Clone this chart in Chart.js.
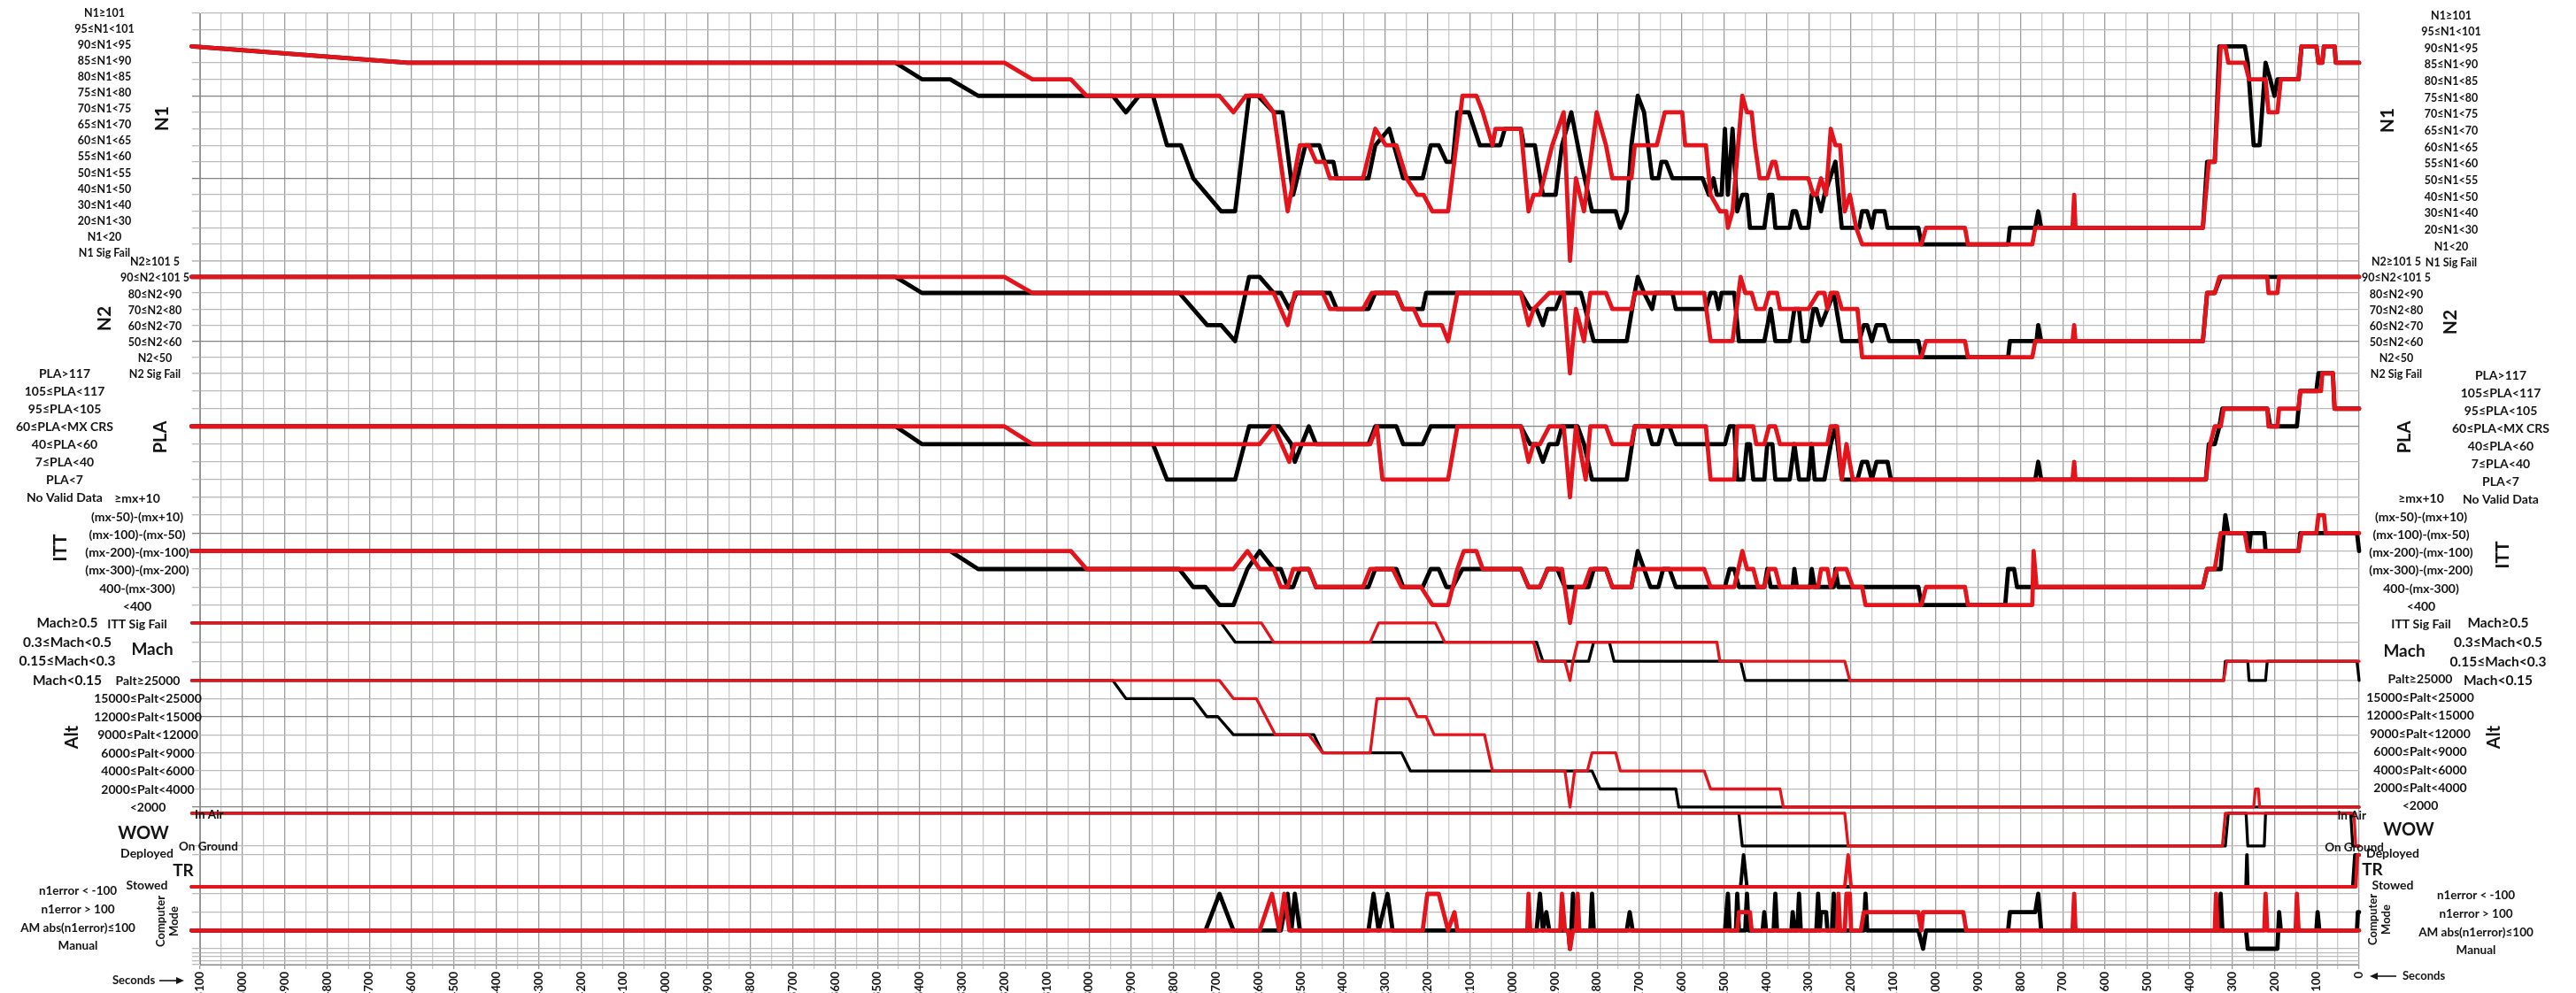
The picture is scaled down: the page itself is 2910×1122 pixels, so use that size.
<!DOCTYPE html>
<html><head><meta charset="utf-8">
<script src="https://cdn.jsdelivr.net/npm/chart.js@4.4.1/dist/chart.umd.min.js"></script>
<style>html,body{margin:0;padding:0;background:#fff;overflow:hidden}canvas{display:block}</style>
</head><body>
<canvas id="c" width="2910" height="1122"></canvas>
<script>
// ---------------- DATA ----------------
const X_TICKS = [5100,5000,4900,4800,4700,4600,4500,4400,4300,4200,4100,4000,3900,3800,3700,3600,3500,3400,3300,3200,3100,3000,2900,2800,2700,2600,2500,2400,2300,2200,2100,2000,1900,1800,1700,1600,1500,1400,1300,1200,1100,1000,900,800,700,600,500,400,300,200,100,0];

const N1_LABELS = ['N1≥101','95≤N1<101','90≤N1<95','85≤N1<90','80≤N1<85','75≤N1<80','70≤N1<75','65≤N1<70','60≤N1<65','55≤N1<60','50≤N1<55','40≤N1<50','30≤N1<40','20≤N1<30','N1<20','N1 Sig Fail'];
const N2_LABELS = ['N2≥101 5','90≤N2<101 5','80≤N2<90','70≤N2<80','60≤N2<70','50≤N2<60','N2<50','N2 Sig Fail'];
const PLA_LABELS = ['PLA>117','105≤PLA<117','95≤PLA<105','60≤PLA<MX CRS','40≤PLA<60','7≤PLA<40','PLA<7','No Valid Data'];
const ITT_LABELS = ['≥mx+10','(mx-50)-(mx+10)','(mx-100)-(mx-50)','(mx-200)-(mx-100)','(mx-300)-(mx-200)','400-(mx-300)','<400','ITT Sig Fail'];
const MACH_LABELS = ['Mach≥0.5','0.3≤Mach<0.5','0.15≤Mach<0.3','Mach<0.15'];
const ALT_LABELS = ['Palt≥25000','15000≤Palt<25000','12000≤Palt<15000','9000≤Palt<12000','6000≤Palt<9000','4000≤Palt<6000','2000≤Palt<4000','<2000'];
const WOW_LABELS = ['In Air','On Ground'];
const TR_LABELS = ['Deployed','Stowed'];
const CM_LABELS = ['n1error < -100','n1error > 100','AM abs(n1error)≤100','Manual'];

// series: [seconds, level index (0 = bottom label)]
const N1_BLACK = [[5120,13],[4610,12],[3457,12],[3395,11],[3328,11],[3262,10],[2944,10],[2913,9],[2882,10],[2849,10],[2816,7],[2783,7],[2754,5],[2721,4],[2688,3],[2655,3],[2622,10],[2601,10],[2564,9],[2543,9],[2518,4],[2489,7],[2456,7],[2444,6],[2423,6],[2415,5],[2340,5],[2324,7],[2291,8],[2258,5],[2212,5],[2193,7],[2174,7],[2156,6],[2141,6],[2130,9],[2103,9],[2077,7],[2029,7],[2018,8],[1980,8],[1973,7],[1947,7],[1928,4],[1898,4],[1883,7],[1861,9],[1838,6],[1812,3],[1756,3],[1745,2],[1730,3],[1719,7],[1704,10],[1689,9],[1670,5],[1655,5],[1648,6],[1637,6],[1622,5],[1551,5],[1536,4],[1525,5],[1517,4],[1506,4],[1498,8],[1491,4],[1480,8],[1469,3],[1457,4],[1446,4],[1439,2],[1405,2],[1394,4],[1386,4],[1379,2],[1345,2],[1338,3],[1330,3],[1319,2],[1301,2],[1293,4],[1282,4],[1271,3],[1263,4],[1237,6],[1222,2],[1181,2],[1174,3],[1162,3],[1151,2],[1144,3],[1121,3],[1114,2],[1041,2],[1034,1],[829,1],[825,2],[765,2],[758,3],[751,2],[369,2],[359,6],[341,6],[330,13],[270,13],[263,12],[249,7],[235,7],[221,12],[210,11],[200,10],[193,11],[143,11],[136,13],[101,13],[96,12],[87,12],[83,13],[58,13],[55,12],[0,12]];
const N1_RED = [[5120,13],[4610,12],[3200,12],[3134,11],[3043,11],[3006,10],[2692,10],[2659,9],[2630,10],[2593,10],[2564,9],[2531,3],[2502,7],[2481,7],[2464,6],[2444,6],[2431,5],[2353,5],[2324,8],[2299,7],[2274,7],[2250,5],[2225,4],[2210,4],[2189,3],[2152,3],[2118,10],[2085,10],[2070,9],[2047,7],[2040,8],[1980,8],[1962,3],[1950,4],[1935,4],[1906,7],[1879,9],[1864,0],[1850,5],[1831,3],[1801,9],[1779,7],[1764,5],[1719,5],[1711,7],[1659,7],[1640,9],[1599,9],[1592,7],[1543,7],[1532,4],[1510,3],[1495,3],[1491,2],[1480,3],[1457,10],[1446,9],[1435,9],[1427,7],[1416,5],[1398,5],[1386,6],[1379,6],[1371,5],[1301,5],[1289,4],[1282,4],[1271,5],[1259,4],[1248,8],[1237,7],[1226,7],[1215,3],[1203,4],[1188,2],[1174,1],[1034,1],[1023,2],[931,2],[924,1],[772,1],[765,2],[677,2],[673,4],[670,2],[369,2],[355,6],[341,6],[327,13],[316,13],[309,12],[270,12],[260,11],[221,11],[214,9],[193,9],[185,11],[143,11],[136,13],[101,13],[96,12],[87,12],[83,13],[58,13],[55,12],[0,12]];

const N2_BLACK = [[5120,6],[3457,6],[3395,5],[2787,5],[2721,3],[2688,3],[2655,2],[2622,6],[2597,6],[2564,5],[2547,5],[2527,4],[2510,5],[2431,5],[2415,4],[2340,4],[2324,5],[2274,5],[2258,4],[2212,4],[2204,5],[1980,5],[1958,4],[1943,4],[1928,3],[1917,4],[1898,4],[1883,5],[1838,5],[1808,2],[1730,2],[1711,5],[1704,6],[1689,5],[1670,4],[1663,5],[1622,5],[1614,4],[1543,4],[1532,5],[1521,5],[1513,4],[1506,5],[1476,5],[1465,2],[1405,2],[1390,4],[1379,2],[1345,2],[1334,4],[1323,4],[1315,2],[1301,2],[1289,4],[1282,4],[1271,3],[1256,4],[1241,5],[1222,2],[1181,2],[1170,3],[1162,3],[1151,2],[1140,3],[1121,3],[1110,2],[1041,2],[1034,1],[829,1],[825,2],[762,2],[758,3],[751,2],[369,2],[359,5],[341,5],[327,6],[0,6]];
const N2_RED = [[5120,6],[3200,6],[3134,5],[2564,5],[2531,3],[2514,5],[2448,5],[2431,4],[2353,4],[2332,5],[2274,5],[2258,4],[2233,4],[2216,3],[2189,3],[2167,3],[2152,2],[2130,5],[1980,5],[1962,3],[1950,4],[1913,5],[1879,5],[1864,0],[1850,4],[1831,2],[1816,5],[1779,5],[1764,4],[1719,4],[1711,5],[1547,5],[1532,2],[1480,2],[1461,6],[1450,5],[1435,5],[1424,4],[1405,4],[1394,5],[1375,5],[1368,4],[1301,4],[1278,5],[1263,5],[1256,4],[1248,5],[1233,5],[1222,4],[1185,4],[1174,1],[1034,1],[1023,2],[931,2],[924,1],[772,1],[765,2],[677,2],[673,3],[670,2],[369,2],[359,5],[341,5],[330,6],[217,6],[214,5],[193,5],[189,6],[0,6]];

const PLA_BLACK = [[5120,4],[3457,4],[3395,3],[2849,3],[2816,1],[2655,1],[2622,4],[2551,4],[2522,3],[2514,2],[2481,4],[2464,3],[2340,3],[2324,4],[2274,4],[2258,3],[2212,3],[2193,4],[1980,4],[1958,3],[1943,3],[1928,2],[1913,3],[1894,3],[1883,4],[1846,4],[1831,3],[1812,1],[1730,1],[1711,4],[1681,4],[1670,3],[1655,3],[1644,4],[1629,4],[1614,3],[1498,3],[1487,4],[1476,4],[1469,1],[1454,1],[1446,3],[1439,3],[1431,1],[1405,1],[1398,3],[1386,3],[1379,1],[1345,1],[1334,3],[1323,1],[1301,1],[1293,3],[1286,1],[1263,1],[1248,3],[1237,4],[1222,1],[1185,1],[1174,2],[1162,2],[1151,1],[1140,2],[1114,2],[1106,1],[765,1],[758,2],[751,1],[362,1],[355,3],[341,3],[330,4],[323,5],[217,5],[210,4],[147,4],[139,6],[101,6],[96,7],[62,7],[58,5],[0,5]];
const PLA_RED = [[5120,4],[3200,4],[3134,3],[2597,3],[2564,4],[2527,2],[2514,3],[2336,3],[2320,4],[2307,1],[2152,1],[2130,4],[1980,4],[1962,2],[1950,3],[1935,3],[1913,4],[1879,4],[1864,0],[1850,4],[1827,1],[1816,4],[1779,4],[1764,3],[1719,3],[1711,4],[1543,4],[1532,1],[1476,1],[1469,4],[1431,4],[1424,3],[1405,3],[1394,4],[1379,4],[1368,3],[1256,3],[1248,4],[1233,4],[1222,1],[1211,3],[1196,1],[677,1],[673,2],[670,1],[362,1],[352,3],[341,4],[327,4],[320,5],[217,5],[214,4],[193,4],[189,5],[143,5],[139,6],[90,6],[87,7],[62,7],[58,5],[0,5]];

const ITT_BLACK = [[5120,4],[3328,4],[3262,3],[2787,3],[2754,2],[2725,2],[2692,1],[2659,1],[2626,3],[2597,4],[2564,3],[2547,3],[2531,2],[2518,2],[2502,3],[2481,3],[2464,2],[2340,2],[2324,3],[2274,3],[2258,2],[2212,2],[2193,3],[2174,3],[2156,2],[2141,2],[2118,3],[1980,3],[1962,2],[1935,2],[1917,3],[1894,3],[1876,2],[1820,2],[1808,3],[1779,3],[1764,2],[1719,2],[1704,4],[1689,3],[1674,2],[1655,2],[1644,3],[1629,3],[1614,2],[1498,2],[1487,3],[1476,3],[1465,2],[1405,2],[1398,3],[1390,2],[1338,2],[1334,3],[1328,2],[1297,2],[1293,3],[1286,2],[1241,2],[1237,3],[1230,2],[1041,2],[1034,1],[836,1],[829,3],[815,3],[808,2],[369,2],[359,3],[327,3],[320,5],[316,6],[309,5],[263,5],[260,4],[256,5],[224,5],[221,4],[143,4],[139,5],[5,5],[0,4]];
const ITT_RED = [[5120,4],[3043,4],[3006,3],[2659,3],[2626,4],[2597,3],[2564,3],[2547,2],[2531,2],[2518,3],[2481,3],[2464,2],[2353,2],[2336,3],[2283,3],[2262,2],[2216,2],[2189,1],[2152,1],[2130,3],[2115,4],[2085,4],[2070,3],[1980,3],[1962,2],[1935,2],[1917,3],[1883,3],[1864,0],[1850,2],[1831,2],[1816,3],[1779,3],[1764,2],[1719,2],[1711,3],[1547,3],[1532,2],[1476,2],[1457,4],[1446,3],[1431,3],[1420,2],[1405,2],[1394,3],[1379,3],[1368,2],[1278,2],[1271,3],[1256,3],[1248,2],[1233,3],[1211,3],[1196,2],[1174,2],[1166,1],[1034,1],[1023,2],[931,2],[924,1],[772,1],[769,4],[762,2],[369,2],[359,3],[341,3],[327,5],[270,5],[263,4],[143,4],[136,5],[101,5],[96,6],[83,6],[79,5],[0,5]];

const MACH_BLACK = [[5120,3],[2688,3],[2655,2],[1943,2],[1928,1],[1820,1],[1808,2],[1771,2],[1760,1],[1461,1],[1450,0],[320,0],[316,1],[263,1],[260,0],[221,0],[217,1],[5,1],[0,0]];
const MACH_RED = [[5120,3],[2593,3],[2564,2],[2336,2],[2316,3],[2182,3],[2160,2],[1950,2],[1939,1],[1876,1],[1864,0],[1857,1],[1846,2],[1517,2],[1510,1],[1215,1],[1203,0],[320,0],[313,1],[0,1]];

const ALT_BLACK = [[5120,7],[2944,7],[2913,6],[2754,6],[2722,5],[2696,5],[2659,4],[2469,4],[2448,3],[2262,3],[2241,2],[1812,2],[1793,1],[1614,1],[1607,0],[0,0]];
const ALT_RED = [[5120,7],[2692,7],[2659,6],[2605,6],[2560,4],[2481,4],[2448,3],[2336,3],[2320,6],[2245,6],[2225,5],[2204,5],[2185,4],[2066,4],[2047,2],[1876,2],[1864,0],[1853,2],[1823,2],[1812,3],[1756,3],[1745,2],[1547,2],[1532,1],[1368,1],[1360,0],[249,0],[245,1],[238,1],[235,0],[0,0]];

const WOW_BLACK = [[5120,1],[1465,1],[1457,0],[316,0],[309,1],[267,1],[263,0],[224,0],[221,1],[20,1],[15,0],[0,0]];
const WOW_RED = [[5120,1],[1215,1],[1207,0],[323,0],[316,1],[12,1],[8,0],[0,0]];

const TR_BLACK = [[5120,0],[1461,0],[1454,1],[1446,0],[267,0],[265,1],[263,0],[15,0],[10,1],[0,1]];
const TR_RED = [[5120,0],[1215,0],[1207,1],[1200,0],[8,0],[4,1],[0,1]];

const CM_BLACK = [[5120,1],[2725,1],[2692,3],[2659,1],[2547,1],[2531,3],[2522,1],[2514,3],[2502,1],[2340,1],[2328,3],[2316,1],[2295,3],[2283,1],[1943,1],[1935,3],[1928,1],[1920,2],[1913,1],[1868,1],[1864,0],[1861,1],[1857,3],[1850,1],[1816,1],[1812,3],[1808,1],[1730,1],[1723,2],[1716,1],[1498,1],[1491,3],[1487,1],[1472,1],[1469,3],[1465,1],[1450,1],[1446,3],[1442,1],[1409,1],[1405,2],[1401,1],[1383,1],[1379,3],[1375,1],[1341,1],[1338,2],[1334,1],[1327,1],[1323,3],[1319,1],[1282,1],[1278,3],[1274,1],[1271,2],[1259,2],[1256,1],[1245,1],[1241,3],[1237,1],[1170,1],[1166,3],[1162,1],[1041,1],[1030,0],[1023,1],[829,1],[825,2],[765,2],[758,3],[751,1],[330,1],[327,3],[323,1],[267,1],[263,0],[193,0],[189,2],[185,1],[101,1],[98,2],[94,1],[5,1],[3,2],[0,2]];
const CM_RED = [[5120,1],[2597,1],[2568,3],[2551,1],[2539,3],[2527,1],[2212,1],[2201,3],[2174,3],[2152,1],[2137,2],[2130,1],[1965,1],[1962,3],[1958,1],[1887,1],[1883,3],[1876,1],[1868,1],[1864,0],[1857,1],[1850,1],[1846,3],[1842,1],[1469,1],[1465,2],[1439,2],[1435,1],[1233,1],[1230,3],[1226,1],[1215,1],[1211,3],[1203,3],[1200,1],[1177,1],[1170,2],[1041,2],[1034,1],[1030,2],[935,2],[928,1],[677,1],[673,3],[670,1],[341,1],[338,3],[334,1],[224,1],[221,3],[217,1],[150,1],[147,3],[143,1],[0,1]];

// ---------------- LAYOUT / STYLE ----------------
const FONT = 'Lato, "Open Sans", sans-serif';
const TXT = '#141414';
const RED = '#e3141c';
const BLACK = '#000000';
const H_LIGHT = '#bcbcbc', H_DARK = '#828282', V_MAJOR = '#9d9d9d', V_MINOR = '#cbcbcb';

const PANELS = [
  {key:'N1', labels:N1_LABELS, black:N1_BLACK, red:N1_RED, min:0, max:15, h:279.6, dark:[10,5,0], lw:4.8},
  {key:'N2', labels:N2_LABELS, black:N2_BLACK, red:N2_RED, min:0, max:7, h:127, dark:[2], lw:4.8},
  {key:'PLA', labels:PLA_LABELS, black:PLA_BLACK, red:PLA_RED, min:0, max:7, h:140, dark:[4], lw:4.8},
  {key:'ITT', labels:ITT_LABELS, black:ITT_BLACK, red:ITT_RED, min:0, max:7, h:142, dark:[5], lw:4.8},
  {key:'Mach', labels:MACH_LABELS, black:MACH_BLACK, red:MACH_RED, min:0, max:3, h:65, dark:[], lw:3.3},
  {key:'Alt', labels:ALT_LABELS, black:ALT_BLACK, red:ALT_RED, min:0, max:7, h:143, dark:[5,0], lw:3.3},
  {key:'WOW', labels:WOW_LABELS, black:WOW_BLACK, red:WOW_RED, min:-0.135, max:1.19, h:49, dark:[], lw:3.3},
  {key:'TR', labels:TR_LABELS, black:TR_BLACK, red:TR_RED, min:-0.111, max:1.139, h:45, dark:[], lw:4},
  {key:'CM', labels:CM_LABELS, black:CM_BLACK, red:CM_RED, min:-0.871, max:3.194, h:84, dark:[], lw:4.8, extra:[-0.21,-0.42,-0.64,-0.871]}
];
PANELS.forEach(p => { p.id = 'y' + p.key; p.levels = p.labels.map((_, i) => p.labels.length - 1 - i); });
const PBY = Object.fromEntries(PANELS.map(p => [p.key, p]));

// label columns (x = text anchor, dy = small vertical shift from the level line)
const COLS = [
  {p:'N1', x:118, size:12.5, dy:0, squeeze:-0.032},
  {p:'N1', x:2769, size:12.5, dy:2.5},
  {p:'N2', x:175, size:12.5, dy:1.5},
  {p:'N2', x:2707, size:12.5, dy:1.5},
  {p:'PLA', x:73, size:14, dy:1},
  {p:'PLA', x:2825, size:14, dy:3},
  {p:'ITT', x:155, size:14, dy:2},
  {p:'ITT', x:2735, size:14, dy:2},
  {p:'Mach', x:76, size:15.5, dy:0},
  {p:'Mach', x:2822, size:15.5, dy:0.5},
  {p:'Alt', x:167, size:14, dy:0.5},
  {p:'Alt', x:2734, size:14, dy:-1},
  {p:'TR', x:166, size:14, dy:-1.5},
  {p:'TR', x:2703, size:14, dy:-1.5},
  {p:'CM', x:88, size:13.5, dy:-3},
  {p:'CM', x:2797, size:13.5, dy:2}
];
const WOW_COLS = [
  {x:220, align:'left', size:13.5, dy:2},
  {x:2673, align:'right', size:13.5, dy:3}
];
const TITLES = [
  ['N1',183,134,true,21],['N1',2697,136,true,21],
  ['N2',118,360,true,21],['N2',2768,364,true,21],
  ['PLA',182,494,true,20],['PLA',2717,494,true,20],
  ['ITT',68,619,true,21],['ITT',2827,627,true,21],
  ['Mach',172,734,false,19],['Mach',2716,736,false,19],
  ['Alt',82,833,true,20],['Alt',2818,833,true,20],
  ['WOW',162,942,false,20],['WOW',2721,938,false,20],
  ['TR',207,984,false,19],['TR',2680,983,false,19]
];

const labelPlugin = {
  id: 'panelLabels',
  afterDraw(chart) {
    const ctx = chart.ctx;
    ctx.save();
    ctx.fillStyle = TXT;
    ctx.textBaseline = 'middle';
    for (const c of COLS) {
      const p = PBY[c.p], sc = chart.scales[p.id];
      const top = sc.getPixelForValue(p.levels[0]);
      ctx.font = `bold ${c.size}px ${FONT}`;
      ctx.textAlign = 'center';
      p.labels.forEach((t, i) => {
        const yv = sc.getPixelForValue(p.levels[i]);
        ctx.fillText(t, c.x, yv + c.dy + (yv - top) * (c.squeeze || 0));
      });
    }
    const w = PBY.WOW, ws = chart.scales[w.id];
    for (const c of WOW_COLS) {
      ctx.font = `bold ${c.size}px ${FONT}`;
      ctx.textAlign = c.align;
      ctx.fillText(w.labels[0], c.x, ws.getPixelForValue(w.levels[0]) + c.dy);
      ctx.fillText(w.labels[1], c.align === 'left' ? c.x - 18 : c.x + 20, ws.getPixelForValue(w.levels[1]) + c.dy - 1);
    }
    ctx.textAlign = 'center';
    for (const [t, x, y, rot, s] of TITLES) {
      ctx.font = `bold ${s}px ${FONT}`;
      if (rot) {
        ctx.save(); ctx.translate(x, y); ctx.rotate(-Math.PI / 2); ctx.fillText(t, 0, 0); ctx.restore();
      } else ctx.fillText(t, x, y);
    }
    ctx.font = `bold 13px ${FONT}`;
    for (const [x, y] of [[189, 1041], [2688, 1039]]) {
      ctx.save(); ctx.translate(x, y); ctx.rotate(-Math.PI / 2);
      ctx.fillText('Computer', 0, -7.5); ctx.fillText('Mode', 0, 7.5);
      ctx.restore();
    }
    ctx.font = `bold 13px ${FONT}`;
    ctx.textAlign = 'left';
    ctx.fillText('Seconds', 127, 1108);
    ctx.fillText('Seconds', 2714, 1103);
    ctx.strokeStyle = TXT; ctx.lineWidth = 1.6;
    const arrow = (x1, x2, y) => {
      const d = Math.sign(x2 - x1);
      ctx.beginPath(); ctx.moveTo(x1, y); ctx.lineTo(x2 - d * 6, y); ctx.stroke();
      ctx.beginPath(); ctx.moveTo(x2, y); ctx.lineTo(x2 - d * 9, y - 4); ctx.lineTo(x2 - d * 9, y + 4); ctx.closePath(); ctx.fill();
    };
    arrow(180, 208, 1108);
    arrow(2707, 2677, 1103);
    ctx.restore();
  }
};

const datasets = [];
PANELS.forEach(p => {
  datasets.push({label: p.key + ' red', yAxisID: p.id, data: p.red.map(([x, y]) => ({x, y})), borderColor: RED, borderWidth: p.lw, order: 0});
  datasets.push({label: p.key + ' black', yAxisID: p.id, data: p.black.map(([x, y]) => ({x, y})), borderColor: BLACK, borderWidth: p.lw, order: 1});
});
datasets.forEach(d => Object.assign(d, {pointRadius: 0, tension: 0, fill: false, borderJoinStyle: 'round', borderCapStyle: 'round', clip: {left: 12, right: 3, top: 4, bottom: 4}}));

const X_GRID = [];
X_TICKS.forEach(v => { X_GRID.push(v); if (v > 0) X_GRID.push(v - 50); });

const scales = {
  x: {
    type: 'linear', reverse: true, min: 0, max: 5100, position: 'bottom',
    afterBuildTicks: s => { s.ticks = X_GRID.map(v => ({value: v})); },
    afterFit: s => { s.height = 32; },
    ticks: {autoSkip: false, maxRotation: 90, minRotation: 90, padding: 3, color: TXT,
      font: {family: FONT, weight: 'bold', size: 13},
      callback: v => X_TICKS.includes(v) ? String(v) : ''},
    grid: {color: c => (c.tick && X_TICKS.includes(c.tick.value)) ? V_MAJOR : V_MINOR, lineWidth: 1.3, tickLength: 5, drawTicks: true},
    border: {display: true, color: '#8f8f8f'}
  }
};
PANELS.forEach((p, i) => {
  const tv = p.levels.concat(p.extra || []);
  scales[p.id] = {
    type: 'linear', position: 'left', stack: 'panels', stackWeight: p.h, weight: 20 - i, offset: false,
    min: p.min, max: p.max,
    afterBuildTicks: s => { s.ticks = tv.map(v => ({value: v})); },
    afterFit: s => { s.width = 0; },
    ticks: {display: false},
    grid: {color: c => (c.tick && p.dark.includes(c.tick.value)) ? H_DARK : H_LIGHT, lineWidth: 1.3, tickLength: 9, drawTicks: true},
    border: {display: true, color: '#8f8f8f'}
  };
});

new Chart(document.getElementById('c'), {
  type: 'line',
  data: {datasets},
  options: {
    responsive: false, animation: false, devicePixelRatio: 1,
    layout: {padding: {left: 226, right: 245, top: 15, bottom: 0}},
    plugins: {legend: {display: false}, tooltip: {enabled: false}},
    scales
  },
  plugins: [labelPlugin]
});
</script>
</body></html>
